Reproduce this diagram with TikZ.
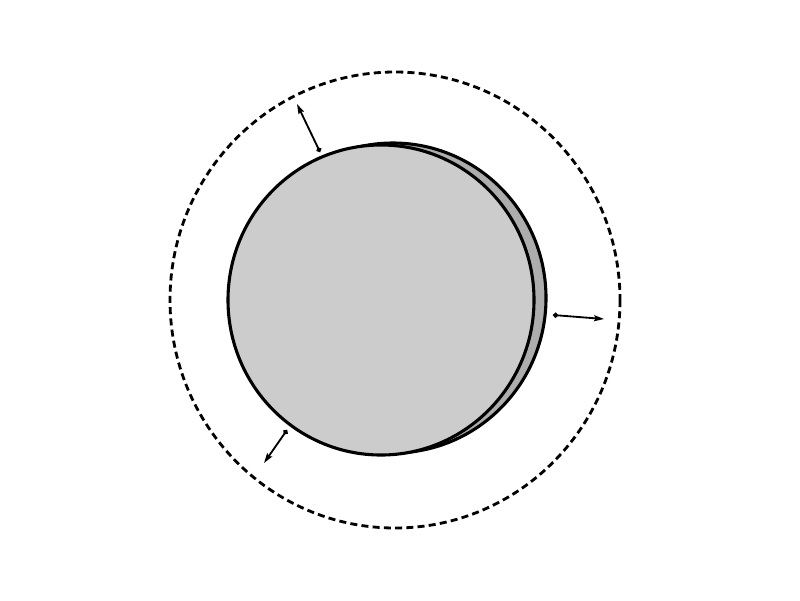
\documentclass[tikz,border=0pt]{standalone}
\usetikzlibrary{arrows.meta}

\begin{document}
\begin{tikzpicture}[
				x=0.025cm,y=-0.025cm,
				disc/.style={
					draw,
					line width=2.2pt
				},
				bound/.style={
					draw,
					dash pattern=on 5pt off 3pt,
					line width=2pt
				},
				push/.style={
					{Circle[length=3.6pt]}-{Stealth[length=7pt,width=4.2pt,inset=1pt]},
					line width=1.3pt
				}
			]
			\useasboundingbox (0,0) rectangle (800,600);
			\path[bound] (395,300) ellipse (225 and 228);
			% back and front faces
			\path[disc,fill=black!32] (393,298) ellipse (153 and 155);
			\path[disc,fill=black!20] (381,300) ellipse (153 and 155);
			% arrows
			\coordinate (a1) at (320,152);
			\coordinate (b1) at (297,104);
			\coordinate (a2) at (553,315);
			\coordinate (b2) at (604,319);
			\coordinate (a3) at (287,430);
			\coordinate (b3) at (264,463);
			\draw[push] (a1) -- (b1);
			\draw[push] (a2) -- (b2);
			\draw[push] (a3) -- (b3);
		\end{tikzpicture}
\end{document}
